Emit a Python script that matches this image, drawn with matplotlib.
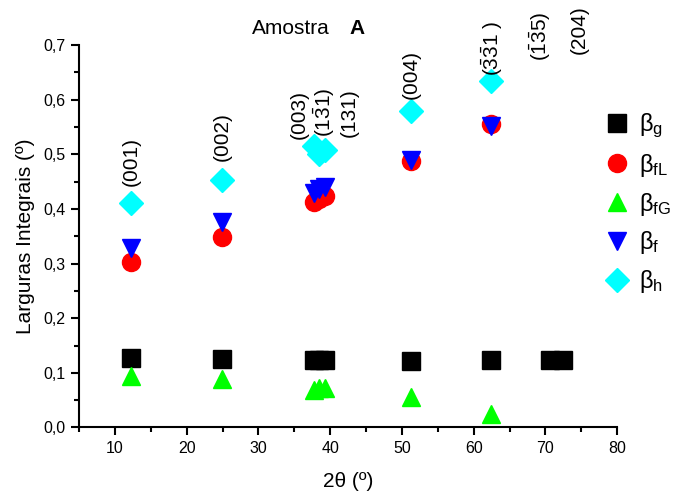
import matplotlib
matplotlib.use("Agg")
import matplotlib.pyplot as plt
from matplotlib.ticker import MultipleLocator, FuncFormatter

plt.rcParams['font.family'] = ['Liberation Sans', 'DejaVu Sans']
plt.rcParams['mathtext.fontset'] = 'custom'
plt.rcParams['mathtext.rm'] = 'Liberation Sans'
plt.rcParams['mathtext.it'] = 'Liberation Sans:italic'
plt.rcParams['mathtext.bf'] = 'Liberation Sans:bold'

# ---- data ----
x_g = [12.3, 24.9, 37.8, 38.5, 39.3, 51.2, 62.4, 70.7, 72.5]
beta_g = [0.128, 0.126, 0.123, 0.123, 0.123, 0.122, 0.123, 0.124, 0.124]

x_f = [12.3, 24.9, 37.8, 38.5, 39.3, 51.2, 62.4]
beta_fL = [0.303, 0.349, 0.412, 0.418, 0.423, 0.487, 0.556]
beta_fG = [0.095, 0.088, 0.069, 0.073, 0.072, 0.056, 0.024]
beta_f = [0.328, 0.376, 0.430, 0.436, 0.440, 0.490, 0.552]
beta_h = [0.411, 0.453, 0.515, 0.500, 0.507, 0.579, 0.635]

hkl_labels = ['(001)', '(002)', '(003)', r'$(1\bar{3}1)$', '(131)', '(004)',
              r'$(\bar{3}\bar{3}1\ )$', r'$(\bar{1}\bar{3}5)$', '(204)']
hkl_x = [12.3, 25.0, 35.7, 39.2, 42.7, 51.3, 62.5, 69.3, 74.7]
hkl_y = [0.486, 0.532, 0.572, 0.576, 0.576, 0.646, 0.694, 0.716, 0.728]

legend_labels = [r'β$_{\mathrm{g}}$', r'β$_{\mathrm{fL}}$', r'β$_{\mathrm{fG}}$',
                 r'β$_{\mathrm{f}}$', r'β$_{\mathrm{h}}$']

fig = plt.figure(figsize=(6.99, 4.95), dpi=100)
ax = fig.add_axes([0.113, 0.1364, 0.770, 0.7727])

ms = 13
h1, = ax.plot(x_g, beta_g, 's', color='black', ms=ms, ls='none', clip_on=False)
h2, = ax.plot(x_f, beta_fL, 'o', color='#ff0000', ms=ms, ls='none', clip_on=False)
h3, = ax.plot(x_f, beta_fG, '^', color='#00ff00', ms=ms, ls='none', clip_on=False)
h4, = ax.plot(x_f, beta_f, 'v', color='#0000ff', ms=ms, ls='none', clip_on=False)
h5, = ax.plot(x_f, beta_h, 'D', color='#00ffff', ms=12, ls='none', clip_on=False)

for t, xx, yy in zip(hkl_labels, hkl_x, hkl_y):
    ax.text(xx, yy, t, rotation=90, ha='center', va='center', fontsize=15, clip_on=False)

ax.set_xlim(5, 80)
ax.set_ylim(0, 0.7)
ax.xaxis.set_major_locator(MultipleLocator(10))
ax.xaxis.set_minor_locator(MultipleLocator(5))
ax.yaxis.set_major_locator(MultipleLocator(0.1))
ax.yaxis.set_minor_locator(MultipleLocator(0.05))
ax.yaxis.set_major_formatter(FuncFormatter(lambda v, p: f"{v:.1f}".replace('.', ',')))
ax.set_xticks([10, 20, 30, 40, 50, 60, 70, 80])

for s in ['top', 'right']:
    ax.spines[s].set_visible(False)
for s in ['left', 'bottom']:
    ax.spines[s].set_linewidth(1.5)
ax.tick_params(which='major', direction='out', length=6, width=1.5, labelsize=11.5)
ax.tick_params(which='minor', direction='out', length=3.5, width=1.5)

ax.set_xlabel('2θ (º)', fontsize=15, labelpad=12)
ax.set_ylabel('Larguras Integrais (º)', fontsize=15, labelpad=6)

fig.text(252 / 699, 1 - 28 / 495, 'Amostra', fontsize=15, ha='left', va='center')
fig.text(349 / 699, 1 - 28 / 495, 'A', fontsize=15, fontweight='bold', ha='left', va='center')

leg = fig.legend([h1, h2, h3, h4, h5], legend_labels, loc='upper left',
                 bbox_to_anchor=(589 / 699, 1 - 95 / 495), frameon=False,
                 fontsize=17, labelspacing=0.5, handletextpad=0.4,
                 handlelength=1.0, borderpad=0.2, markerscale=1.0)

fig.savefig('out.png', dpi=100)
